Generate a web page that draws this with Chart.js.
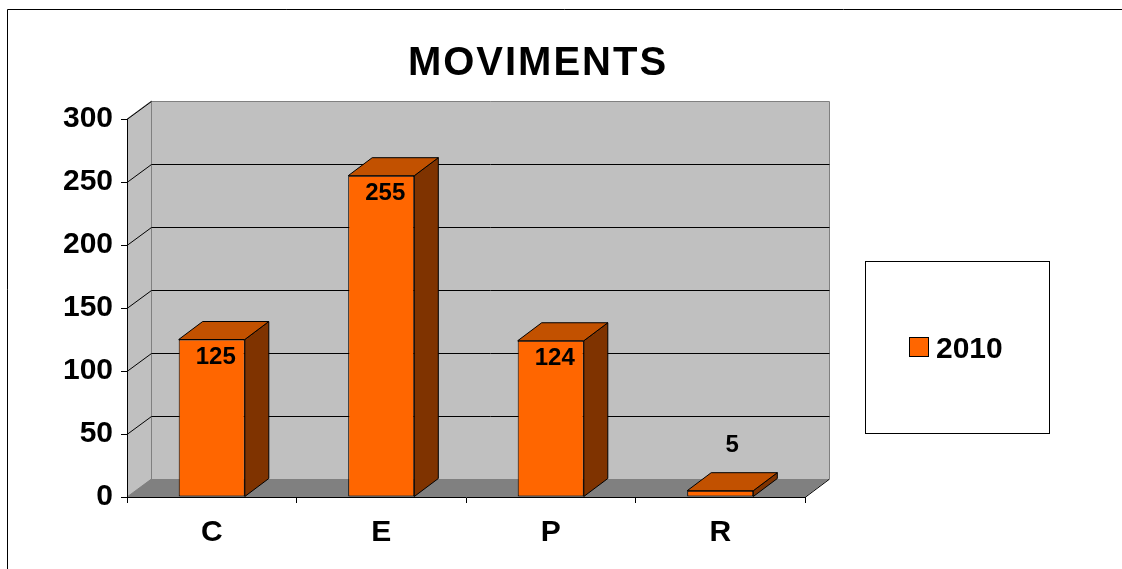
<!DOCTYPE html>
<html>
<head>
<meta charset="utf-8">
<script src="https://cdn.jsdelivr.net/npm/chart.js@4"></script>
<style>
  html, body { margin: 0; padding: 0; background: #fff; }
  #wrap { width: 1122px; height: 569px; }
</style>
</head>
<body>
<div id="wrap"><canvas id="chart" width="1122" height="569"></canvas></div>
<script>
// chart data
const categories = ['C', 'E', 'P', 'R'];
const values2010 = [125, 255, 124, 5];
const seriesName = '2010';
const yMin = 0, yMax = 300, yStep = 50;
const chartTitle = 'MOVIMENTS';

// 3d look
const DX = 24, DY = -18;
const FRONT = '#FF6600', TOP = '#C25100', SIDE = '#7F3300';

// walls, floor and gridlines behind the bars
const wallsPlugin = {
    id: 'walls',
    beforeDraw(chart) {
        const ctx = chart.ctx;
        const a = chart.chartArea;
        const y = chart.scales.y;
        ctx.save();
        ctx.fillStyle = '#fff';
        ctx.fillRect(0, 0, chart.width, chart.height);

        // outer frame
        ctx.strokeStyle = '#000';
        ctx.lineWidth = 1;
        ctx.beginPath();
        ctx.moveTo(7.5, chart.height);
        ctx.lineTo(7.5, 9.5);
        ctx.lineTo(chart.width, 9.5);
        ctx.stroke();

        // back wall
        ctx.fillStyle = '#C0C0C0';
        ctx.fillRect(a.left + DX, a.top + DY, a.right - a.left, a.bottom - a.top);
        // left wall
        ctx.beginPath();
        ctx.moveTo(a.left, a.bottom);
        ctx.lineTo(a.left, a.top);
        ctx.lineTo(a.left + DX, a.top + DY);
        ctx.lineTo(a.left + DX, a.bottom + DY);
        ctx.closePath();
        ctx.fill();
        // floor
        ctx.fillStyle = '#808080';
        ctx.beginPath();
        ctx.moveTo(a.left, a.bottom);
        ctx.lineTo(a.left + DX, a.bottom + DY);
        ctx.lineTo(a.right + DX, a.bottom + DY);
        ctx.lineTo(a.right, a.bottom);
        ctx.closePath();
        ctx.fill();

        // wall edges
        ctx.strokeStyle = '#808080';
        ctx.beginPath();
        ctx.rect(a.left + DX + 0.5, a.top + DY + 0.5, a.right - a.left, a.bottom - a.top);
        ctx.moveTo(a.left, a.top);
        ctx.lineTo(a.left + DX + 0.5, a.top + DY);
        ctx.moveTo(a.left, a.bottom);
        ctx.lineTo(a.left + DX + 0.5, a.bottom + DY);
        ctx.stroke();

        // gridlines on both walls
        ctx.strokeStyle = '#000';
        y.ticks.forEach(t => {
            if (t.value === yMin) return;
            const py = Math.round(y.getPixelForValue(t.value)) + 0.5;
            ctx.beginPath();
            ctx.moveTo(a.left, py);
            ctx.lineTo(a.left + DX + 0.5, py + DY);
            if (t.value !== yMax) ctx.lineTo(a.right + DX + 0.5, py + DY);
            ctx.stroke();
        });

        // floor right edge
        ctx.beginPath();
        ctx.moveTo(a.right, a.bottom + 0.5);
        ctx.lineTo(a.right + DX, a.bottom + DY + 0.5);
        ctx.stroke();
        ctx.restore();
    }
};

// top and side faces of the bars, value labels, title and legend
const barsPlugin = {
    id: 'bars3d',
    afterDatasetsDraw(chart) {
        const ctx = chart.ctx;
        ctx.save();
        ctx.strokeStyle = '#000';
        ctx.lineWidth = 1;
        chart.getDatasetMeta(0).data.forEach(bar => {
            const l = bar.x - bar.width / 2, r = bar.x + bar.width / 2;
            const t = bar.y, b = bar.base;
            ctx.fillStyle = SIDE;
            ctx.beginPath();
            ctx.moveTo(r, t);
            ctx.lineTo(r + DX, t + DY);
            ctx.lineTo(r + DX, b + DY);
            ctx.lineTo(r, b);
            ctx.closePath();
            ctx.fill();
            ctx.stroke();
            ctx.fillStyle = TOP;
            ctx.beginPath();
            ctx.moveTo(l, t);
            ctx.lineTo(l + DX, t + DY);
            ctx.lineTo(r + DX, t + DY);
            ctx.lineTo(r, t);
            ctx.closePath();
            ctx.fill();
            ctx.stroke();
        });
        ctx.restore();
    },
    afterDraw(chart) {
        const ctx = chart.ctx;
        ctx.save();
        // value labels
        ctx.fillStyle = '#000';
        ctx.font = 'bold 24px "Liberation Sans", Arial, sans-serif';
        ctx.textAlign = 'center';
        ctx.textBaseline = 'middle';
        chart.getDatasetMeta(0).data.forEach((bar, i) => {
            const h = bar.base - bar.y;
            if (h > 40) {
                ctx.fillText(String(values2010[i]), bar.x + 4, bar.y + 18);
            } else {
                ctx.fillText(String(values2010[i]), bar.x + DX / 2, bar.y + DY - 27);
            }
        });

        // title
        ctx.font = 'bold 40px "Liberation Sans", Arial, sans-serif';
        ctx.letterSpacing = '2px';
        ctx.textAlign = 'left';
        ctx.textBaseline = 'alphabetic';
        const w = ctx.measureText(chartTitle).width - 2;
        ctx.fillText(chartTitle, 537 - w / 2, 75);
        ctx.letterSpacing = '0px';

        // legend
        ctx.strokeStyle = '#000';
        ctx.lineWidth = 1;
        ctx.strokeRect(865.5, 261.5, 184, 172);
        ctx.fillStyle = FRONT;
        ctx.fillRect(909.5, 337.5, 19, 19);
        ctx.strokeRect(909.5, 337.5, 19, 19);
        ctx.fillStyle = '#000';
        ctx.font = 'bold 30px "Liberation Sans", Arial, sans-serif';
        ctx.fillText(seriesName, 936, 358);
        ctx.restore();
    }
};

new Chart(document.getElementById('chart'), {
    type: 'bar',
    data: {
        labels: categories,
        datasets: [{
            label: seriesName,
            data: values2010,
            backgroundColor: FRONT,
            borderColor: '#000',
            borderWidth: 1,
            borderSkipped: false,
            categoryPercentage: 1,
            barPercentage: 0.39
        }]
    },
    options: {
        responsive: false,
        devicePixelRatio: 1,
        animation: false,
        layout: { padding: { top: 119, right: 317, left: 0, bottom: 0 } },
        plugins: {
            legend: { display: false },
            title: { display: false },
            tooltip: { enabled: false }
        },
        scales: {
            x: {
                afterFit: s => { s.height = 72; },
                offset: true,
                grid: { offset: true, drawOnChartArea: false, color: '#000', tickLength: 6 },
                border: { color: '#000', width: 1 },
                ticks: {
                    color: '#000',
                    padding: 12,
                    font: { family: '"Liberation Sans", Arial, sans-serif', size: 30, weight: 'bold' }
                }
            },
            y: {
                min: yMin,
                max: yMax,
                afterFit: s => { s.width = 127; },
                grid: { drawOnChartArea: false, color: '#000', tickLength: 6 },
                border: { color: '#000', width: 1 },
                ticks: {
                    stepSize: yStep,
                    color: '#000',
                    padding: 8,
                    font: { family: '"Liberation Sans", Arial, sans-serif', size: 30, weight: 'bold' }
                }
            }
        }
    },
    plugins: [wallsPlugin, barsPlugin]
});
</script>
</body>
</html>
